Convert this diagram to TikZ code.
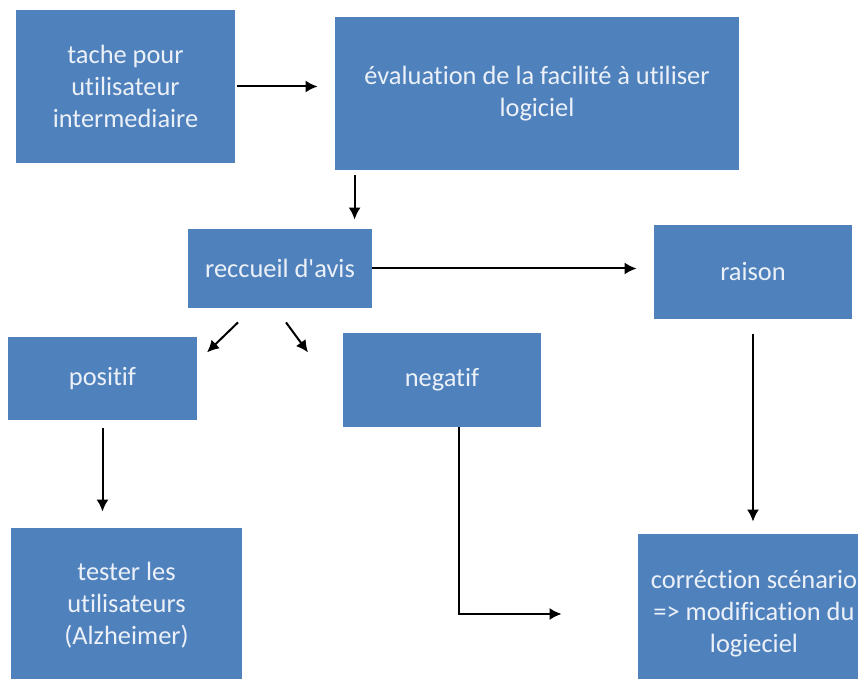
\documentclass[tikz,border=0pt]{standalone}
\usepackage{fontspec}
\setmainfont{Carlito}[Ligatures={TeX,NoCommon}]
\usetikzlibrary{calc,arrows.meta}

\definecolor{boxblue}{RGB}{79,129,189}
\definecolor{boxtext}{RGB}{236,241,248}

\begin{document}
\begin{tikzpicture}[x=0.5pt, y=-0.5pt,
    box/.style={fill=boxblue, text=boxtext, align=center, inner sep=0pt,
      font=\fontsize{13.2}{16}\selectfont},
    arr/.style={-{Latex[length=6pt,width=6pt]}, line width=1pt}]

      % Frame (pixel units of the page)
      \path [use as bounding box, fill=white] (0,0) rectangle (858,679);
      \clip (0,0) rectangle (858,679);

      % Boxes
      \node [box, minimum width=109.5pt, minimum height=76.5pt] (tache) at (125.5,86.5) {tache pour\\utilisateur\\intermediaire};
      \node [box, minimum width=202pt, minimum height=76.5pt] (eval) at (537,93.5) {évaluation de la facilité à utiliser\\logiciel};
      \node [box, minimum width=92pt, minimum height=39.5pt] (reccueil) at (280,268.5) {reccueil d\textquotesingle avis};
      \node [box, minimum width=99pt, minimum height=47pt] (raison) at (753,272) {raison};
      \node [box, minimum width=94.5pt, minimum height=41.5pt] (positif) at (102.5,378.5) {positif};
      \node [box, minimum width=99pt, minimum height=47pt] (negatif) at (442,380) {negatif};
      \node [box, minimum width=115.5pt, minimum height=77pt] (tester) at (126.5,605) {tester les\\utilisateurs\\(Alzheimer)};
      \node [box, minimum width=116pt, minimum height=80pt] (corr) at (754,614) {corréction scénario\\=> modification du\\logieciel};

      % Arrows
      \draw [arr, shorten <=1pt, shorten >=8.5pt] (tache.east) -- (tache.east -| eval.west);
      \draw [arr, shorten <=2.5pt, shorten >=4.5pt] ([xshift=10pt]eval.south west) -- ([xshift=10pt]eval.south west |- reccueil.north);
      \draw [arr, shorten >=8.5pt] (reccueil.east) -- (reccueil.east -| raison.west);
      \draw [arr] ($(reccueil.south)+(-42,14)$) -- ($(reccueil.south)+(-73,44)$);
      \draw [arr] ($(reccueil.south)+(6,14)$) -- ($(reccueil.south)+(28,44)$);
      \draw [arr, shorten <=4pt, shorten >=8pt] (positif.south) -- (positif.south |- tester.north);
      \draw [arr, shorten <=7.5pt, shorten >=6pt] (raison.south) -- (raison.south |- corr.north);
      \draw [arr, shorten >=38pt] ([xshift=8.5pt]negatif.south) |- (corr.west);   % elbow to the correction box

\end{tikzpicture}
\end{document}
